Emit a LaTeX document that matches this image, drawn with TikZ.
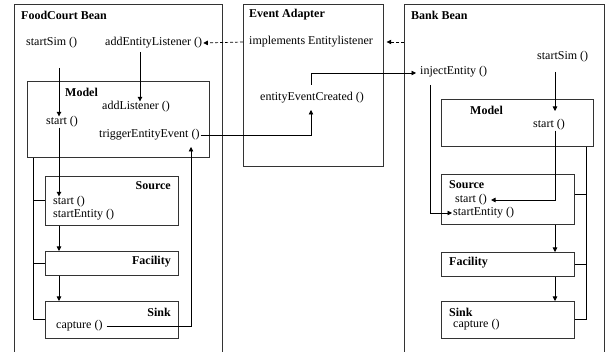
\documentclass[tikz,border=0pt]{standalone}
\usepackage{fontspec}
\setmainfont{Liberation Serif}
\usetikzlibrary{arrows.meta,calc}
\begin{document}
\begin{tikzpicture}[x=1pt,y=-1pt,
  box/.style={draw=black!80, line width=0.7pt, inner sep=0pt, anchor=north west},
  lbl/.style={inner sep=0pt, anchor=west, font=\fontsize{12}{14}\selectfont},
  ttl/.style={inner sep=0pt, anchor=west, font=\fontsize{12}{14}\selectfont\bfseries},
  ttr/.style={inner sep=0pt, anchor=east, font=\fontsize{12}{14}\selectfont\bfseries},
  conn/.style={line width=0.7pt},
  arr/.style={conn, -{Triangle[length=4.5pt,width=4.5pt]}},
  darr/.style={arr, dash pattern=on 3pt off 2pt}]
\useasboundingbox (0,0) rectangle (608,352);
\fill[white] (0,0) rectangle (608,352);
% ---------- outer boxes
\node[box, minimum width=208pt, minimum height=360pt] (fcb) at (14,4) {};
\node[box, minimum width=140pt, minimum height=162pt] (ea) at (243,4) {};
\node[box, minimum width=200pt, minimum height=360pt] (bkb) at (404,4) {};
\node[ttl] (fcTitle) at (21,15) {FoodCourt Bean};
\node[ttl] (eaTitle) at (249,15) {Event Adapter};
\node[ttl] (bkTitle) at (411,15) {Bank Bean};
% ---------- FoodCourt Bean
\node[lbl] (fcStartSim) at (26,43) {startSim ()};
\node[lbl] (fcAddEL) at (105,43) {addEntityListener ()};
\node[box, minimum width=182pt, minimum height=76pt] (fcModel) at (27,81) {};
\node[ttl] (fcModelT) at (65,92) {Model};
\node[lbl] (fcAddL) at (102,107) {addListener ()};
\node[lbl] (fcStart) at (46,122) {start ()};
\node[lbl] (fcTrig) at (99,135) {triggerEntityEvent ()};
\node[box, minimum width=133pt, minimum height=49pt] (fcSource) at (45,176) {};
\node[ttr] (fcSourceT) at (171,186) {Source};
\node[lbl] (fcSrcStart) at (53,202) {start ()};
\node[lbl] (fcSrcSE) at (53,215) {startEntity ()};
\node[box, minimum width=133pt, minimum height=24pt] (fcFac) at (45,251) {};
\node[ttr] (fcFacT) at (171,262) {Facility};
\node[box, minimum width=133pt, minimum height=37pt] (fcSink) at (45,301) {};
\node[ttr] (fcSinkT) at (171,312) {Sink};
\node[lbl] (fcCapture) at (56,326) {capture ()};
% ---------- Event Adapter
\node[lbl] (eaImpl) at (249,42) {implements Entitylistener};
\node[lbl] (eaEEC) at (260,98) {entityEventCreated ()};
% ---------- Bank Bean
\node[lbl] (bkInject) at (420,72) {injectEntity ()};
\node[lbl] (bkStartSim) at (537,57) {startSim ()};
\node[box, minimum width=152pt, minimum height=47pt] (bkModel) at (441,99) {};
\node[ttl] (bkModelT) at (470,110) {Model};
\node[lbl] (bkStart) at (533,125) {start ()};
\node[box, minimum width=133pt, minimum height=50pt] (bkSource) at (441,174) {};
\node[ttl] (bkSourceT) at (449,185) {Source};
\node[lbl] (bkSrcStart) at (455,200) {start ()};
\node[lbl] (bkSrcSE) at (453,213) {startEntity ()};
\node[box, minimum width=133pt, minimum height=24pt] (bkFac) at (441,252) {};
\node[ttl] (bkFacT) at (449,263) {Facility};
\node[box, minimum width=133pt, minimum height=37pt] (bkSink) at (441,301) {};
\node[ttl] (bkSinkT) at (449,312) {Sink};
\node[lbl] (bkCapture) at (453,325) {capture ()};
% ---------- coordinates
\coordinate (fx) at (59,68);
\coordinate (fa) at (140,52);
\coordinate (fbus) at (33,0);
\coordinate (fcap) at (191,147);
\coordinate (ek) at (311,110);
\coordinate (ek2) at (311,85);
\coordinate (ek3) at (311,73);
\coordinate (bx) at (555,72);
\coordinate (bxtip) at (555,111);
\coordinate (bi) at (430,85);
\coordinate (bbus) at (586,0);
% ---------- FoodCourt connectors
\draw[arr] (fx) -- (fx |- fcStart.north);
\draw[arr] (fx |- fcStart.south) -- (fx |- fcSrcStart.north);
\draw[arr] (fa) -- (fa |- fcAddL.north);
\draw[arr] (fx |- fcSource.south) -- (fx |- fcFac.north);
\draw[arr] (fx |- fcFac.south) -- (fx |- fcSink.north);
\draw[conn] (fbus |- fcModel.south) -- (fbus |- fcSink.west) -- (fcSink.west);
\draw[conn] (fbus |- fcSource.west) -- (fcSource.west);
\draw[conn] (fbus |- fcFac.west) -- (fcFac.west);
\draw[arr] ([xshift=4pt]fcCapture.east) -- (fcap |- fcCapture.east) -- (fcap);
% ---------- cross-bean connectors
\draw[arr] ([xshift=1pt]fcTrig.east) -- (ek |- fcTrig.east) -- (ek);
\draw[arr] (ek2) -- (ek3) -- ([xshift=-4pt]bkInject.west |- ek3);
\draw[darr] (ea.west |- eaImpl.west) -- ([xshift=1pt]fcAddEL.east);
\draw[darr] (bkb.west |- eaImpl.west) -- ([xshift=3pt]ea.east |- eaImpl.west);
% ---------- Bank connectors
\draw[arr] (bx) -- (bxtip);
\draw[arr] (bx |- bkStart.south) -- (bx |- bkSrcStart.east) -- ([xshift=4pt]bkSrcStart.east);
\draw[arr] (bi) -- (bi |- bkSrcSE.west) -- ([xshift=-1pt]bkSrcSE.west);
\draw[arr] (bx |- bkSource.south) -- (bx |- bkFac.north);
\draw[arr] (bx |- bkFac.south) -- (bx |- bkSink.north);
\draw[conn] (bbus |- bkModel.south) -- (bbus |- bkSink.east) -- (bkSink.east);
\draw[conn] (bbus |- 0,194) -- (bkSource.east |- 0,194);
\draw[conn] (bbus |- bkFac.east) -- (bkFac.east);
\end{tikzpicture}
\end{document}
